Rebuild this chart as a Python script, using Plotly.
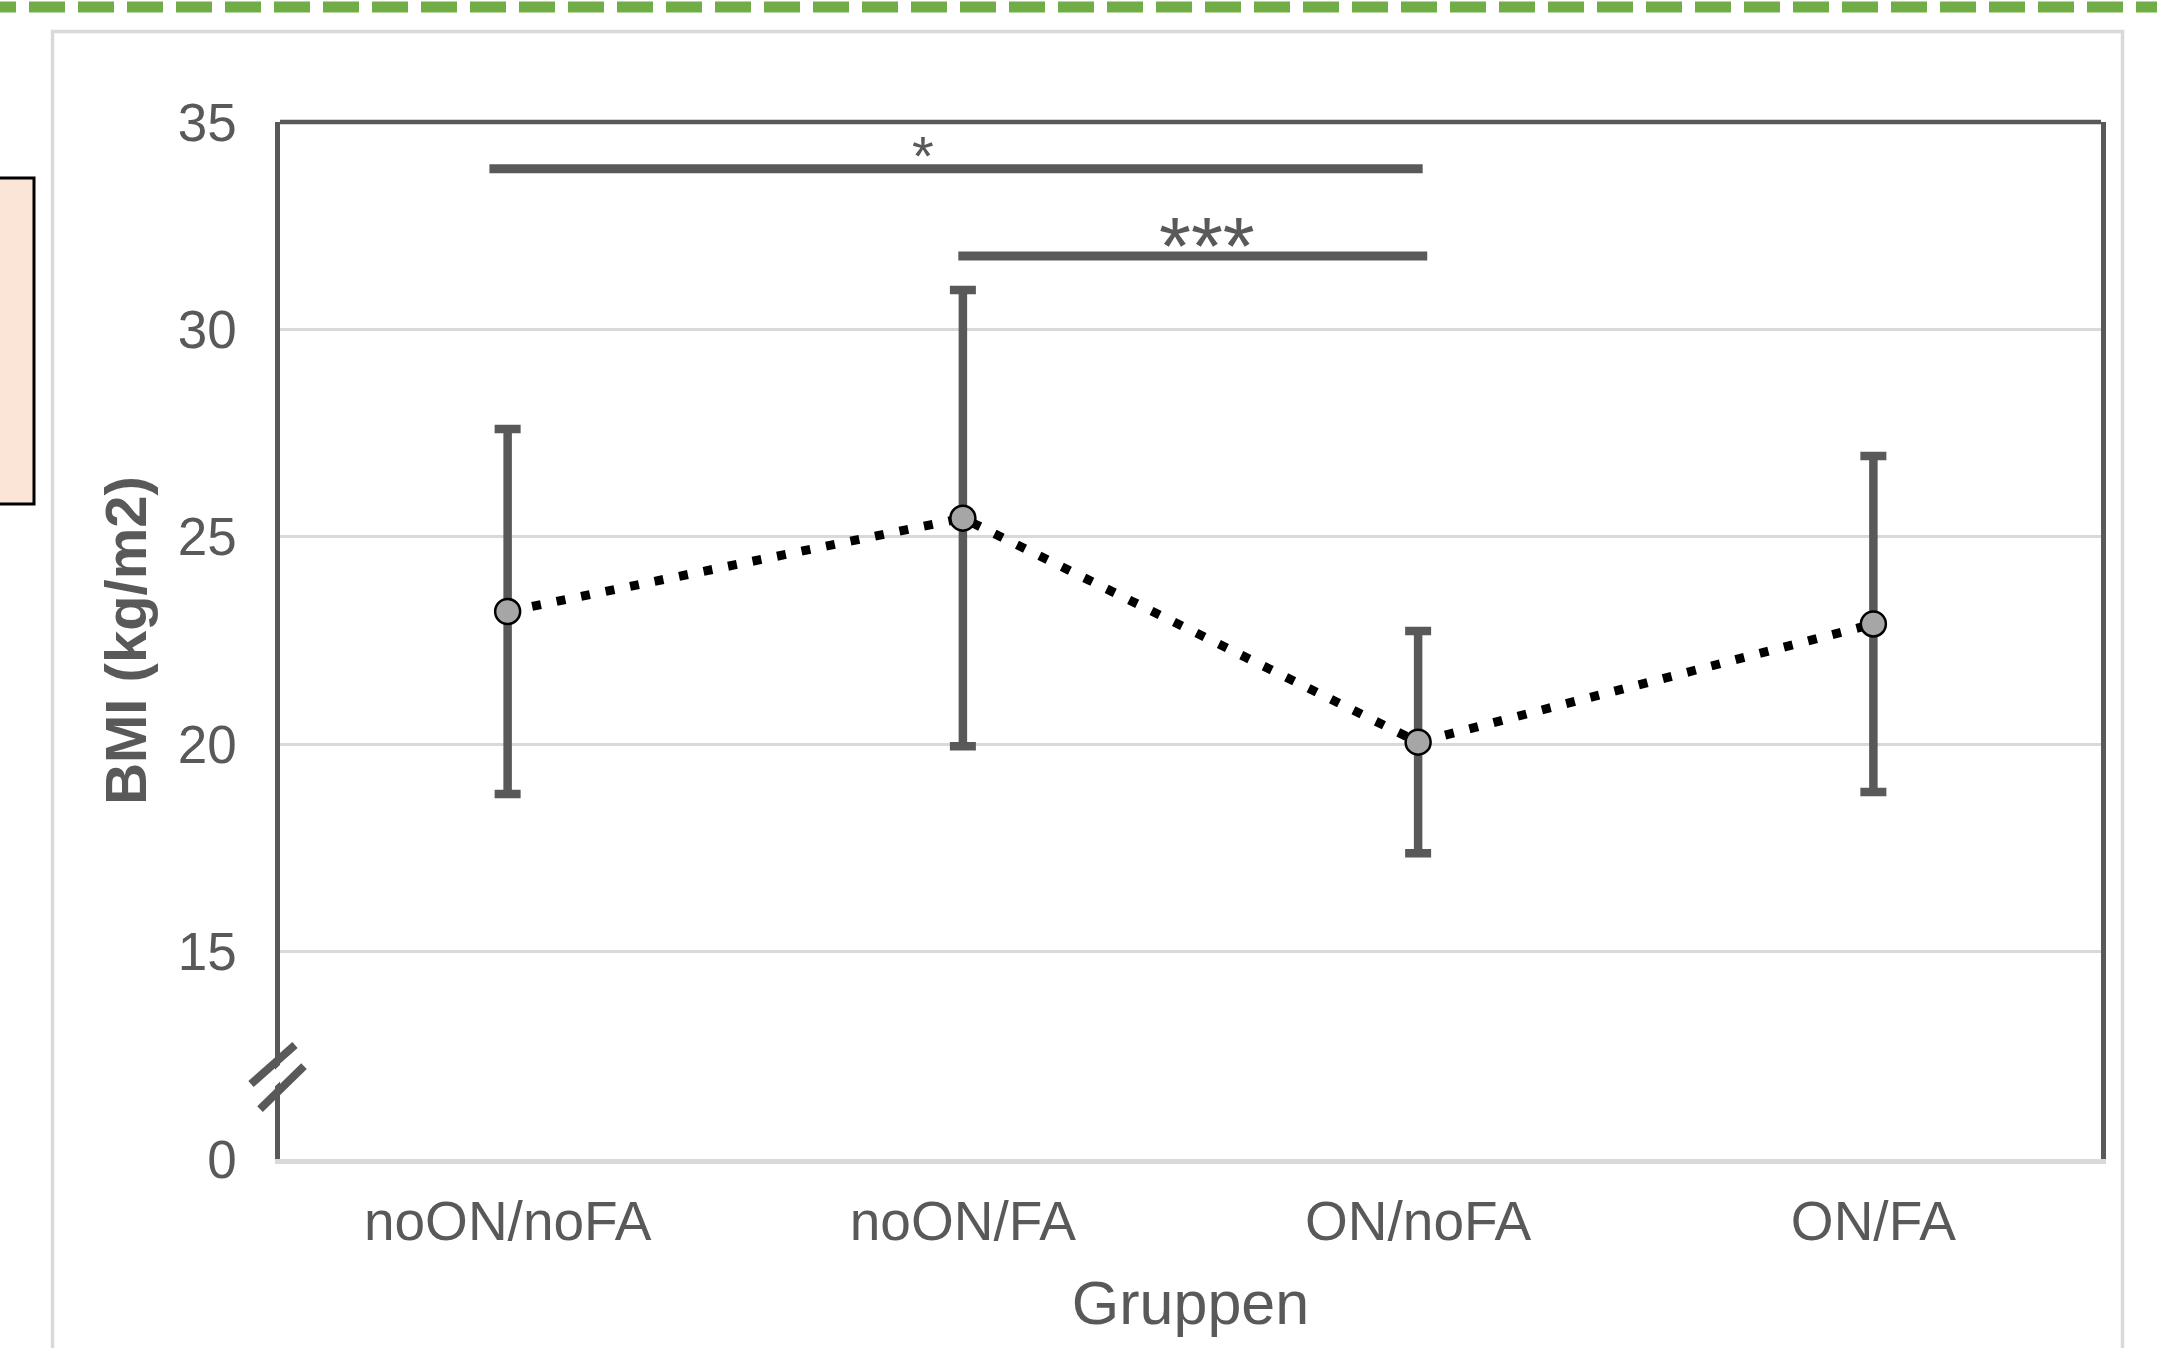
import plotly.graph_objects as go

# ---------------- data ----------------
groups = ["noON/noFA", "noON/FA", "ON/noFA", "ON/FA"]
bmi_mean = [23.2, 25.45, 20.05, 22.9]
bmi_sd = [4.4, 5.5, 2.68, 4.05]

y_tick_vals = [10, 15, 20, 25, 30, 35]
y_tick_text = ["0", "15", "20", "25", "30", "35"]

# significance comparisons (category index from/to, level, label)
sig_from = [0, 1]
sig_to = [2, 2]
sig_level = [33.87, 31.77]
sig_label = ["*", "***"]

# ---------------- layout geometry ----------------
W, H = 2157, 1348
L, R, T, B = 280, 56, 122, 189
PW, PH = W - L - R, H - T - B

def px_x(x):
    return (x - L) / PW

def px_y(y):
    return (H - B - y) / PH

DARK = "#595959"
GRID = "#D9D9D9"
FONT = "Liberation Sans, Arial, sans-serif"

fig = go.Figure()
fig.add_trace(go.Scatter(
    x=groups, y=bmi_mean,
    mode="lines+markers",
    line=dict(color="#000000", width=9, dash="9px,16px"),
    marker=dict(size=25, color="#A6A6A6", line=dict(color="#000000", width=2.5)),
    error_y=dict(type="data", array=bmi_sd, visible=True,
                 color=DARK, thickness=8.5, width=13),
    showlegend=False,
    cliponaxis=False,
))

shapes = []
# green dashed line on top of page
shapes.append(dict(type="line", xref="paper", yref="paper",
                   x0=px_x(-20), x1=px_x(W + 20), y0=px_y(7), y1=px_y(7),
                   line=dict(color="#70AD47", width=11, dash="36px,13px")))
# outer light-gray frame
shapes.append(dict(type="rect", xref="paper", yref="paper",
                   x0=px_x(52.5), x1=px_x(2122.5), y0=px_y(31.5), y1=px_y(1420),
                   line=dict(color=GRID, width=3.5), fillcolor="rgba(0,0,0,0)"))
# peach box at left edge
shapes.append(dict(type="rect", xref="paper", yref="paper",
                   x0=px_x(-10), x1=px_x(34), y0=px_y(178), y1=px_y(504),
                   line=dict(color="#000000", width=3), fillcolor="#FBE5D6"))
# top border of plot area
shapes.append(dict(type="line", xref="paper", yref="paper",
                   x0=0, x1=1, y0=1, y1=1, layer="above",
                   line=dict(color=DARK, width=4.5)))
# axis break symbol
shapes.append(dict(type="line", xref="paper", yref="y",
                   xsizemode="pixel", ysizemode="pixel", xanchor=0, yanchor=12,
                   x0=-24, y0=-20, x1=19, y1=21, layer="above",
                   line=dict(color="#FFFFFF", width=12)))
shapes.append(dict(type="line", xref="paper", yref="y",
                   xsizemode="pixel", ysizemode="pixel", xanchor=0, yanchor=12,
                   x0=-29, y0=-8, x1=15, y1=31, layer="above",
                   line=dict(color=DARK, width=8)))
shapes.append(dict(type="line", xref="paper", yref="y",
                   xsizemode="pixel", ysizemode="pixel", xanchor=0, yanchor=12,
                   x0=-20, y0=-33, x1=24, y1=10, layer="above",
                   line=dict(color=DARK, width=8)))
# significance bars
bar_pad_left = [-0.04, -0.01]
bar_pad_right = [0.01, 0.02]
for f, t_, lv, pl, pr in zip(sig_from, sig_to, sig_level, bar_pad_left, bar_pad_right):
    shapes.append(dict(type="line", xref="x", yref="y",
                       x0=f + pl, x1=t_ + pr, y0=lv, y1=lv,
                       line=dict(color=DARK, width=9)))

annotations = []
star_size = [56, 82]
star_xshift = [-33, 14]
star_yshift = [13, 10]
for f, t_, lv, lab, fs, xs, ys, pl, pr in zip(sig_from, sig_to, sig_level, sig_label,
                                              star_size, star_xshift, star_yshift,
                                              bar_pad_left, bar_pad_right):
    annotations.append(dict(x=(f + pl + t_ + pr) / 2, y=lv, xref="x", yref="y",
                            text=lab, showarrow=False, yanchor="middle",
                            xshift=xs, yshift=ys,
                            font=dict(family=FONT, size=fs, color=DARK)))

fig.update_layout(
    width=W, height=H,
    margin=dict(l=L, r=R, t=T, b=B, autoexpand=False),
    paper_bgcolor="#FFFFFF", plot_bgcolor="#FFFFFF",
    shapes=shapes, annotations=annotations,
    font=dict(family=FONT, color=DARK),
    xaxis=dict(
        type="category", range=[-0.5, 3.5],
        showline=True, linecolor=GRID, linewidth=4.5,
        showgrid=False, zeroline=False, ticks="",
        tickfont=dict(family=FONT, size=55, color=DARK),
        ticklabelstandoff=10,
        title=dict(text="Gruppen", font=dict(family=FONT, size=61, color=DARK),
                   standoff=32),
        automargin=False,
    ),
    yaxis=dict(
        range=[10, 35],
        tickvals=y_tick_vals, ticktext=y_tick_text,
        showline=True, linecolor=DARK, linewidth=4.5, mirror=True,
        showgrid=True, gridcolor=GRID, gridwidth=3,
        zeroline=False, ticks="",
        tickfont=dict(family=FONT, size=53, color=DARK),
        ticklabelstandoff=28,
        title=dict(text="<b>BMI (kg/m2)</b>",
                   font=dict(family=FONT, size=58, color=DARK), standoff=14),
        automargin=False,
    ),
)

fig.write_html("out.html",
               config={"displayModeBar": False},
               post_script="document.body.style.margin='0px';"
                           "document.body.style.overflow='hidden';")
